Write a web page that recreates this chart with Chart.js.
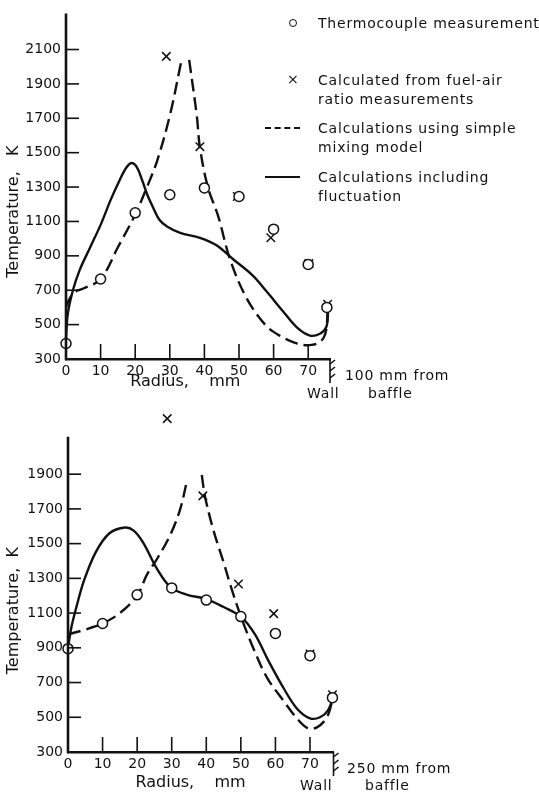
<!DOCTYPE html>
<html><head><meta charset="utf-8">
<script src="https://cdn.jsdelivr.net/npm/chart.js@4"></script>
<style>
html,body{margin:0;padding:0;background:#fff;}
body{width:539px;height:795px;position:relative;overflow:hidden;font-family:"DejaVu Sans",sans-serif;color:#111;}
canvas{position:absolute;left:0;}
#c1{top:0;}
#c2{top:400px;}
.t{position:absolute;font-size:14px;line-height:18px;letter-spacing:0.8px;white-space:nowrap;color:#111;}
.sym{position:absolute;}
</style></head><body>
<canvas id="c1" width="539" height="400"></canvas>
<canvas id="c2" width="539" height="395"></canvas>
<div id="legend"></div>
<div class="t" style="left:307px;top:384px;">Wall</div>
<div class="t" style="left:345px;top:366px;">100 mm from</div>
<div class="t" style="left:368px;top:384px;">baffle</div>
<div class="t" style="left:300px;top:776px;">Wall</div>
<div class="t" style="left:347px;top:759px;">250 mm from</div>
<div class="t" style="left:365px;top:776px;">baffle</div>
<script>
// ---------- tick labels ----------
const xTicks = [0, 10, 20, 30, 40, 50, 60, 70];
const yTicks100 = [300, 500, 700, 900, 1100, 1300, 1500, 1700, 1900, 2100];
const yTicks250 = [300, 500, 700, 900, 1100, 1300, 1500, 1700, 1900];

// ---------- series names ----------
const seriesNames = [
  "Thermocouple measurement",
  "Calculated from fuel-air\nratio measurements",
  "Calculations using simple\nmixing model",
  "Calculations including\nfluctuation"
];

// ---------- 100 mm from baffle ----------
const thermoR100 = [0, 10, 20, 30, 40, 50, 60, 70, 75.4];
const thermoT100 = [390, 765, 1150, 1255, 1295, 1245, 1055, 850, 600];
const fuelR100 = [29, 38.7, 49.5, 59.2, 70.2, 75.6];
const fuelT100 = [2060, 1535, 1245, 1005, 855, 618];
const mixR100 = [0, 1, 2.5, 5, 10, 15, 20, 23.4, 26.3, 30, 33.3, 34.7, 35.6, 37.8, 38.7, 41, 44, 47.4, 52.3, 58, 62.7, 66, 68.5, 71, 73, 74.5, 75.3, 75.6];
const mixT100 = [600, 650, 690, 710, 765, 950, 1140, 1300, 1450, 1715, 2030, null, 2040, 1715, 1530, 1300, 1130, 880, 650, 490, 425, 395, 382, 382, 395, 425, 480, 600];
const flucR100 = [0, 0.5, 2, 4, 7, 10, 13, 15.5, 17.5, 19, 20.5, 22, 23.5, 25.2, 27, 29.2, 33, 38.7, 43.6, 48.3, 54, 58, 62.7, 66.8, 70.5, 73.4, 75.2, 75.7, 75.5];
const flucT100 = [420, 560, 700, 820, 950, 1080, 1230, 1340, 1415, 1440, 1415, 1340, 1255, 1180, 1110, 1070, 1033, 1005, 960, 880, 785, 692, 578, 482, 436, 447, 485, 555, 603];
const axisTop100 = 2310;

// ---------- 250 mm from baffle ----------
const thermoR250 = [0, 10, 20, 30, 40, 50, 60, 70, 76.5];
const thermoT250 = [895, 1040, 1205, 1245, 1175, 1080, 983, 855, 613];
const fuelR250 = [28.7, 39, 49.3, 59.5, 70, 76.5];
const fuelT250 = [2220, 1775, 1268, 1097, 864, 630];
const mixR250 = [0, 5, 10, 15, 20, 22.8, 25.7, 29.5, 32.4, 34.4, 36.5, 38.7, 39.6, 42, 45, 47, 49.8, 53.6, 57.6, 62.3, 66.2, 69.3, 72, 74.9, 76.7];
const mixT250 = [978, 1005, 1040, 1100, 1200, 1320, 1410, 1547, 1695, 1860, null, 1895, 1775, 1582, 1393, 1260, 1092, 898, 727, 596, 494, 437, 442, 500, 613];
const flucR250 = [0, 1, 2.5, 4.5, 8, 12, 16.5, 19, 21.7, 25.8, 29.6, 34.5, 39.7, 45, 50, 54, 58, 62.3, 66.2, 70, 72.9, 75.2, 76.7];
const flucT250 = [900, 1020, 1140, 1280, 1450, 1560, 1593, 1575, 1507, 1353, 1250, 1205, 1183, 1135, 1080, 980, 825, 670, 551, 494, 500, 540, 613];
const axisTop250 = 2115;

const INK = '#111';
Chart.defaults.font.family = '"DejaVu Sans", sans-serif';
Chart.defaults.color = INK;

const pts = (xs, ys) => xs.map((x, i) => ({ x: x, y: ys[i] }));

const axisDecor = {
  id: 'axisDecor',
  afterDraw(chart, args, opts) {
    const ctx = chart.ctx;
    const { left, right, bottom } = chart.chartArea;
    const x = chart.scales.x, y = chart.scales.y;
    ctx.save();
    ctx.strokeStyle = INK;
    ctx.lineCap = 'butt';
    ctx.lineWidth = 1.6;
    y.ticks.forEach(t => {
      if (t.value === y.min) return;
      const py = y.getPixelForValue(t.value);
      ctx.beginPath(); ctx.moveTo(left, py); ctx.lineTo(left + 13, py); ctx.stroke();
    });
    x.ticks.forEach(t => {
      if (t.value === x.min) return;
      const px = x.getPixelForValue(t.value);
      ctx.beginPath(); ctx.moveTo(px, bottom); ctx.lineTo(px, bottom - 15); ctx.stroke();
    });
    // y axis line
    ctx.lineWidth = 2.6;
    ctx.beginPath(); ctx.moveTo(left, y.getPixelForValue(opts.axisTop)); ctx.lineTo(left, bottom + 1.3); ctx.stroke();
    // wall
    ctx.lineWidth = 1.6;
    ctx.beginPath(); ctx.moveTo(right, bottom); ctx.lineTo(right, bottom + 24); ctx.stroke();
    for (let k = 0; k < 3; k++) {
      const yy = bottom + 5 + k * 7;
      ctx.beginPath(); ctx.moveTo(right, yy); ctx.lineTo(right + 5, yy - 4); ctx.stroke();
    }
    ctx.restore();
  }
};

function makeChart(id, cfg) {
  return new Chart(document.getElementById(id), {
    type: 'scatter',
    data: {
      datasets: [
        { label: seriesNames[0], data: pts(cfg.thR, cfg.thT), pointStyle: 'circle', pointRadius: 5, pointBackgroundColor: '#fff', pointBorderColor: INK, pointBorderWidth: 1.5, showLine: false, clip: false },
        { label: seriesNames[1], data: pts(cfg.fuR, cfg.fuT), pointStyle: 'crossRot', pointRadius: 6, pointBorderColor: INK, pointBorderWidth: 1.5, showLine: false, clip: false },
        { label: seriesNames[2], data: pts(cfg.mxR, cfg.mxT), showLine: true, spanGaps: false, borderColor: INK, borderWidth: 2.4, borderDash: [13, 6], tension: 0.35, pointRadius: 0, clip: false },
        { label: seriesNames[3], data: pts(cfg.flR, cfg.flT), showLine: true, borderColor: INK, borderWidth: 2.4, tension: 0.35, pointRadius: 0, clip: false }
      ]
    },
    options: {
      responsive: false,
      animation: false,
      events: [],
      layout: { padding: cfg.padding },
      plugins: { legend: { display: false }, tooltip: { enabled: false }, axisDecor: { axisTop: cfg.axisTop } },
      scales: {
        x: {
          type: 'linear', min: 0, max: cfg.xMax,
          afterBuildTicks: s => { s.ticks = xTicks.map(v => ({ value: v })); },
          afterFit: s => { s.height = cfg.xH; },
          grid: { display: false, drawTicks: false },
          border: { display: true, color: INK, width: 2.6 },
          ticks: { font: { size: 14 }, padding: 4, color: INK, maxRotation: 0, callback: v => String(v) },
          title: { display: true, text: cfg.xTitle, font: { size: 16 }, color: INK, padding: { top: 0, bottom: cfg.xTitlePad } }
        },
        y: {
          type: 'linear', min: 300, max: cfg.yMax,
          afterBuildTicks: s => { s.ticks = cfg.yTicks.map(v => ({ value: v })); },
          afterFit: s => { s.width = cfg.yW; },
          grid: { display: false, drawTicks: false },
          border: { display: false },
          ticks: { font: { size: 14 }, padding: 5, color: INK, callback: v => String(v) },
          title: { display: true, text: cfg.yTitle, font: { size: 16 }, color: INK, padding: { top: 4, bottom: 0 } }
        }
      }
    },
    plugins: [axisDecor]
  });
}

makeChart('c1', {
  thR: thermoR100, thT: thermoT100, fuR: fuelR100, fuT: fuelT100,
  mxR: mixR100, mxT: mixT100, flR: flucR100, flT: flucT100,
  yTicks: yTicks100, yMax: 2310, axisTop: axisTop100, xMax: 76.3,
  padding: { top: 5, left: 0, right: 209, bottom: 0 }, yW: 66, xH: 41, xTitlePad: 9,
  xTitle: 'Radius,    mm     ', yTitle: 'Temperature,   K          '
});
makeChart('c2', {
  thR: thermoR250, thT: thermoT250, fuR: fuelR250, fuT: fuelT250,
  mxR: mixR250, mxT: mixT250, flR: flucR250, flT: flucT250,
  yTicks: yTicks250, yMax: 2250, axisTop: axisTop250, xMax: 76.8,
  padding: { top: 10, left: 0, right: 205.5, bottom: 0 }, yW: 68, xH: 43, xTitlePad: 3,
  xTitle: 'Radius,    mm    ', yTitle: 'Temperature,  K           '
});

// ---------- legend ----------
const legend = document.getElementById('legend');
const rowsY = [23, 80, 128, 177];
const symbols = [
  '<div class="sym" style="left:289px;width:6px;height:6px;border:1.3px solid #111;border-radius:50%;margin-top:-4px;"></div>',
  '<div class="sym" style="left:287px;font-size:14px;line-height:14px;margin-top:-8px;">×</div>',
  '<div class="sym" style="left:265px;width:35px;height:0;border-top:2px dashed #111;margin-top:-1px;"></div>',
  '<div class="sym" style="left:265px;width:35px;height:0;border-top:2px solid #111;margin-top:-1px;"></div>'
];
seriesNames.forEach((name, i) => {
  const wrap = document.createElement('div');
  wrap.style.position = 'absolute';
  wrap.style.left = '0'; wrap.style.top = rowsY[i] + 'px';
  wrap.innerHTML = symbols[i];
  name.split('\n').forEach((line, j) => {
    const d = document.createElement('div');
    d.className = 't';
    d.style.left = '318px';
    d.style.top = (-9 + j * 18.5) + 'px';
    d.textContent = line;
    wrap.appendChild(d);
  });
  legend.appendChild(wrap);
});
</script>
</body></html>
